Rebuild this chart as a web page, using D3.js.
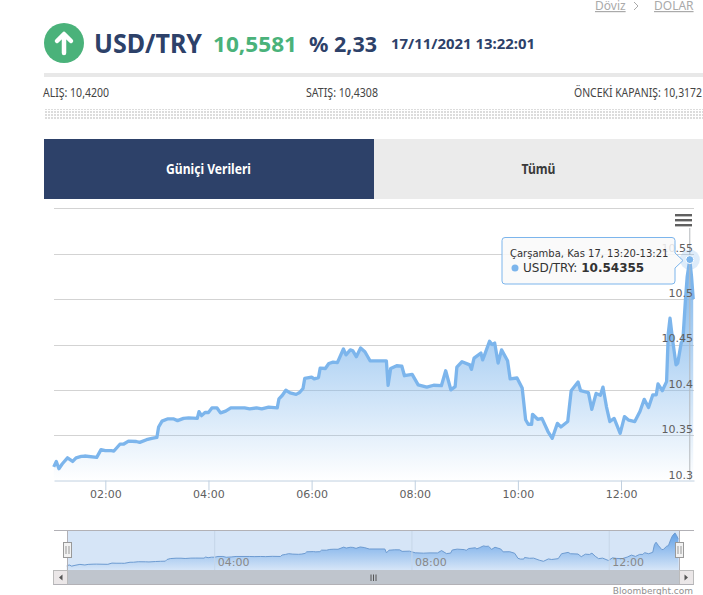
<!DOCTYPE html>
<html>
<head>
<meta charset="utf-8">
<script src="https://cdn.jsdelivr.net/npm/d3@7/dist/d3.min.js"></script>
<style>
html, body { margin: 0; padding: 0; background: #fff; overflow: hidden; }
svg { display: block; }
.head { font-family: "Noto Sans", sans-serif; }
.chart text { font-family: "DejaVu Sans", sans-serif; }
</style>
</head>
<body>
<script>
// minutes since midnight
var minutes = [60,63,66,70,76,82,86,92,96,110,115,120,127,130,137,141,147,156,160,168,174,180,182,186,193,199,204,211,217,227,229,232,236,240,244,250,254,260,266,282,288,296,302,310,320,322,326,330,335,342,346,350,352,360,363,368,370,376,380,385,390,397,400,405,408,412,417,422,428,447,449,452,459,465,468,477,484,494,502,511,516,522,527,529,535,544,546,549,557,559,562,567,570,573,577,581,588,591,599,605,609,612,616,617,623,628,635,640,646,650,658,662,670,673,682,686,691,696,699,703,707,712,719,724,729,736,742,747,752,757,761,763,768,773,775,777,780,784,786,790,792,795,797,800,802,804];
var values = [10.315,10.321,10.313,10.3185,10.325,10.321,10.325,10.3265,10.327,10.3255,10.334,10.333,10.333,10.3325,10.34,10.34,10.3435,10.343,10.342,10.345,10.3465,10.3475,10.359,10.3655,10.368,10.368,10.366,10.3685,10.369,10.3685,10.376,10.3715,10.375,10.375,10.38,10.38,10.3745,10.3765,10.38,10.38,10.379,10.38,10.379,10.381,10.38,10.39,10.394,10.3995,10.3965,10.395,10.397,10.4015,10.4125,10.414,10.412,10.4135,10.424,10.4235,10.429,10.4305,10.43,10.445,10.4385,10.444,10.443,10.4365,10.446,10.442,10.432,10.432,10.405,10.4235,10.4265,10.426,10.4155,10.417,10.4055,10.403,10.405,10.4045,10.421,10.4,10.4035,10.425,10.431,10.4275,10.4225,10.435,10.4405,10.433,10.4405,10.4535,10.45,10.4515,10.4295,10.444,10.432,10.412,10.413,10.402,10.367,10.362,10.362,10.373,10.3675,10.3685,10.354,10.3465,10.363,10.359,10.365,10.399,10.4085,10.399,10.397,10.3785,10.396,10.394,10.403,10.3815,10.365,10.3685,10.352,10.3705,10.3665,10.365,10.376,10.3895,10.3805,10.3945,10.3945,10.4065,10.399,10.409,10.4625,10.479,10.455,10.4275,10.4295,10.4515,10.455,10.5,10.525,10.54355,10.525,10.5];
var yTicks = [10.3,10.35,10.4,10.45,10.5,10.55];
var xTicks = [120,240,360,480,600,720];
var navTicks = [240,480,720];
var hover = {minute: 800, value: 10.54355};

var data = minutes.map(function(m, i) { return {m: m, v: values[i]}; });

function hhmm(m) { return d3.format("02")(Math.floor(m / 60)) + ":" + d3.format("02")(m % 60); }

var svg = d3.select("body").append("svg").attr("width", 703).attr("height", 595);
var defs = svg.append("defs");

// ---- page header
var head = svg.append("g").attr("class", "head");

head.append("text").attr("x", 595).attr("y", 10).attr("font-size", 12).attr("fill", "#aaa")
    .attr("text-decoration", "underline").text("Döviz");
head.append("path").attr("d", "M634 2l4 4-4 4").attr("fill", "none").attr("stroke", "#aaa");
head.append("text").attr("x", 654).attr("y", 10).attr("font-size", 12).attr("fill", "#aaa")
    .attr("text-decoration", "underline").text("DOLAR");

head.append("circle").attr("cx", 64).attr("cy", 43).attr("r", 20).attr("fill", "#4ab27a");
head.append("path").attr("d", "M64 53V35M57 41l7-7 7 7").attr("fill", "none").attr("stroke", "#fff")
    .attr("stroke-width", 4.5).attr("stroke-linecap", "round").attr("stroke-linejoin", "round");

head.append("text").attr("x", 94).attr("y", 53).attr("font-size", 26).attr("font-weight", 700)
    .attr("fill", "#2d4169").attr("textLength", 108).attr("lengthAdjust", "spacingAndGlyphs").text("USD/TRY");
head.append("text").attr("x", 213).attr("y", 52).attr("font-size", 22).attr("font-weight", 700)
    .attr("fill", "#4ab27a").attr("textLength", 84).attr("lengthAdjust", "spacingAndGlyphs").text("10,5581");
head.append("text").attr("x", 309).attr("y", 52).attr("font-size", 22).attr("font-weight", 700)
    .attr("fill", "#2d4169").attr("textLength", 68).attr("lengthAdjust", "spacingAndGlyphs").text("% 2,33");
head.append("text").attr("x", 391).attr("y", 49).attr("font-size", 14).attr("font-weight", 700)
    .attr("fill", "#2d4169").attr("textLength", 144).attr("lengthAdjust", "spacingAndGlyphs").text("17/11/2021 13:22:01");

head.append("rect").attr("x", 44).attr("y", 73).attr("width", 659).attr("height", 4).attr("fill", "#e8e8e8");

[["ALIŞ: 10,4200", 43, 66], ["SATIŞ: 10,4308", 306, 72], ["ÖNCEKİ KAPANIŞ: 10,3172", 574, 128]].forEach(function(d) {
    head.append("text").attr("x", d[1]).attr("y", 97).attr("font-size", 12).attr("fill", "#444")
        .attr("textLength", d[2]).attr("lengthAdjust", "spacingAndGlyphs").text(d[0]);
});

// dotted strip under the quote
var dots = defs.append("pattern").attr("id", "dots").attr("width", 3).attr("height", 3)
    .attr("patternUnits", "userSpaceOnUse");
dots.append("rect").attr("width", 2).attr("height", 2).attr("fill", "#dcdcdc");
head.append("rect").attr("x", 44).attr("y", 109).attr("width", 659).attr("height", 11).attr("fill", "url(#dots)");

// tabs
head.append("rect").attr("x", 44).attr("y", 139).attr("width", 330).attr("height", 60).attr("fill", "#2d4169");
head.append("rect").attr("x", 374).attr("y", 139).attr("width", 329).attr("height", 60).attr("fill", "#ebebeb");
head.append("text").attr("x", 208.5).attr("y", 174).attr("text-anchor", "middle").attr("font-size", 13.5)
    .attr("font-weight", 700).attr("fill", "#fff").attr("textLength", 85).attr("lengthAdjust", "spacingAndGlyphs").text("Güniçi Verileri");
head.append("text").attr("x", 538.5).attr("y", 174).attr("text-anchor", "middle").attr("font-size", 13.5)
    .attr("font-weight", 700).attr("fill", "#3a3a3a").attr("textLength", 34).attr("lengthAdjust", "spacingAndGlyphs").text("Tümü");

// ---- main chart
var chart = svg.append("g").attr("class", "chart");

var x = d3.scaleLinear().domain([60.3, 804.9]).range([54, 694]);
var y = d3.scaleLinear().domain([10.3, 10.6]).range([480.5, 208.4]);

var grad = defs.append("linearGradient").attr("id", "areaFill")
    .attr("gradientUnits", "userSpaceOnUse").attr("x1", 0).attr("x2", 0)
    .attr("y1", y(hover.value)).attr("y2", y(10.3));
grad.append("stop").attr("offset", 0).attr("stop-color", "#7cb5ec");
grad.append("stop").attr("offset", 1).attr("stop-color", "#7cb5ec").attr("stop-opacity", 0);

chart.selectAll(".grid").data(yTicks.slice(1).concat([10.6])).enter().append("line")
    .attr("class", "grid")
    .attr("x1", 54).attr("x2", 694)
    .attr("y1", function(d) { return Math.floor(y(d) + 0.55) + 0.5; })
    .attr("y2", function(d) { return Math.floor(y(d) + 0.55) + 0.5; })
    .attr("stroke", "#d3d3d3");

var area = d3.area().x(function(d) { return x(d.m); }).y0(y(10.3)).y1(function(d) { return y(d.v); });
var line = d3.line().x(function(d) { return x(d.m); }).y(function(d) { return y(d.v); });

chart.append("path").datum(data).attr("d", area).attr("fill", "url(#areaFill)");
chart.append("path").datum(data).attr("d", line).attr("fill", "none")
    .attr("stroke", "#7cb5ec").attr("stroke-width", 3.3).attr("stroke-linejoin", "round");

// crosshair
chart.append("line").attr("x1", x(hover.minute)).attr("x2", x(hover.minute))
    .attr("y1", 228).attr("y2", 480).attr("stroke", "#b4b8bd");

// x axis
var xAxis = d3.axisBottom(x).tickValues(xTicks).tickFormat(hhmm).tickSize(10).tickSizeOuter(0);
var gx = chart.append("g").attr("transform", "translate(0,480.5)").call(xAxis);
gx.select(".domain").attr("stroke", "#c0d0e0");
gx.selectAll(".tick line").attr("stroke", "#c0d0e0");
gx.selectAll(".tick text").attr("font-size", 11).attr("fill", "#606060").attr("y", 10).attr("dy", "0.71em");

// y labels sit above their grid lines, inside the plot
var yAxis = d3.axisRight(y).tickValues(yTicks).tickFormat(d3.format("")).tickSize(0);
var gy = chart.append("g").attr("transform", "translate(0,0)").call(yAxis);
gy.select(".domain").remove();
gy.selectAll(".tick text").attr("x", 693).attr("dy", -2.5).attr("text-anchor", "end")
    .attr("font-size", 11).attr("fill", "#606060");

// menu button
[215, 220, 225].forEach(function(t) {
    chart.append("rect").attr("x", 675).attr("y", t - 1).attr("width", 17).attr("height", 2.4).attr("fill", "#606060");
});

// hover marker
chart.append("circle").attr("cx", x(hover.minute)).attr("cy", y(hover.value)).attr("r", 10)
    .attr("fill", "#7cb5ec").attr("fill-opacity", 0.25);
chart.append("circle").attr("cx", x(hover.minute)).attr("cy", y(hover.value)).attr("r", 4)
    .attr("fill", "#7cb5ec").attr("stroke", "#fff");

// tooltip
var tip = chart.append("g");
tip.append("path").attr("d", "M505 237.5H672a3 3 0 0 1 3 3V253L683 260.5L675 268V281a3 3 0 0 1 -3 3H505a3 3 0 0 1 -3 -3V240.5a3 3 0 0 1 3 -3Z")
    .attr("fill", "#f9f9f9").attr("fill-opacity", 0.85).attr("stroke", "#7cb5ec");
tip.append("text").attr("x", 510).attr("y", 257).attr("font-size", 10).attr("fill", "#333").text("Çarşamba, Kas 17, 13:20-13:21");
tip.append("circle").attr("cx", 515).attr("cy", 268).attr("r", 3.5).attr("fill", "#7cb5ec");
var tipText = tip.append("text").attr("x", 523).attr("y", 272).attr("font-size", 12).attr("fill", "#333");
tipText.append("tspan").text("USD/TRY: ");
tipText.append("tspan").attr("font-weight", 700).text(d3.format(".5f")(hover.value));

// ---- navigator
var nav = svg.append("g").attr("class", "chart");
var nx = d3.scaleLinear().domain([60.3, 804.9]).range([67, 679]);
var ny = d3.scaleLinear().domain([10.3, 10.55]).range([568, 532]);

nav.append("rect").attr("x", 67).attr("y", 530.5).attr("width", 612).attr("height", 39.5).attr("fill", "#d6e5f7");

var navGrad = defs.append("linearGradient").attr("id", "navFill")
    .attr("gradientUnits", "userSpaceOnUse").attr("x1", 0).attr("x2", 0).attr("y1", 532).attr("y2", 570);
navGrad.append("stop").attr("offset", 0).attr("stop-color", "#5f9fe6");
navGrad.append("stop").attr("offset", 1).attr("stop-color", "#d6e5f7");

var navArea = d3.area().x(function(d) { return nx(d.m); }).y0(570).y1(function(d) { return ny(d.v); });
var navLine = d3.line().x(function(d) { return nx(d.m); }).y(function(d) { return ny(d.v); });
nav.append("path").datum(data).attr("d", navArea).attr("fill", "url(#navFill)");
nav.append("path").datum(data).attr("d", navLine).attr("fill", "none").attr("stroke", "#6d9bd1").attr("stroke-width", 1);

nav.selectAll(".navtick").data(navTicks).enter().append("line").attr("class", "navtick")
    .attr("x1", nx).attr("x2", nx).attr("y1", 531).attr("y2", 570).attr("stroke", "#c6d6e8");
nav.selectAll(".navlabel").data(navTicks).enter().append("text").attr("class", "navlabel")
    .attr("x", function(d) { return nx(d) + 3; }).attr("y", 566)
    .attr("font-size", 11).attr("fill", "#888").text(hhmm);

// outline
nav.append("path").attr("d", "M54 530.5H694M67.5 530.5V570M679.5 530.5V570").attr("fill", "none").attr("stroke", "#b2b1b6");

// handles
[67.5, 679.5].forEach(function(h) {
    nav.append("rect").attr("x", h - 4).attr("y", 542.5).attr("width", 8).attr("height", 15)
        .attr("fill", "#f2f2f2").attr("stroke", "#999");
    nav.append("path").attr("d", "M" + (h - 1.5) + " 546V554M" + (h + 1.5) + " 546V554").attr("stroke", "#999");
});

// scrollbar
nav.append("rect").attr("x", 67).attr("y", 570).attr("width", 612).attr("height", 14).attr("fill", "#bfc5cd");
nav.append("rect").attr("x", 53.5).attr("y", 570.5).attr("width", 14).attr("height", 14).attr("fill", "#ebe7e8").attr("stroke", "#bbb");
nav.append("rect").attr("x", 679.5).attr("y", 570.5).attr("width", 14).attr("height", 14).attr("fill", "#ebe7e8").attr("stroke", "#bbb");
nav.append("path").attr("d", "M62.5 574.5V580.5L59 577.5ZM684.5 574.5V580.5L688 577.5Z").attr("fill", "#555");
nav.append("path").attr("d", "M371 574.5V581M373.5 574.5V581M376 574.5V581").attr("stroke", "#555");
nav.append("line").attr("x1", 53.5).attr("x2", 693.5).attr("y1", 584.5).attr("y2", 584.5).attr("stroke", "#b2b1b6");

nav.append("text").attr("x", 693).attr("y", 594).attr("text-anchor", "end").attr("font-size", 9).attr("fill", "#909090").text("Bloomberght.com");
</script>
</body>
</html>
